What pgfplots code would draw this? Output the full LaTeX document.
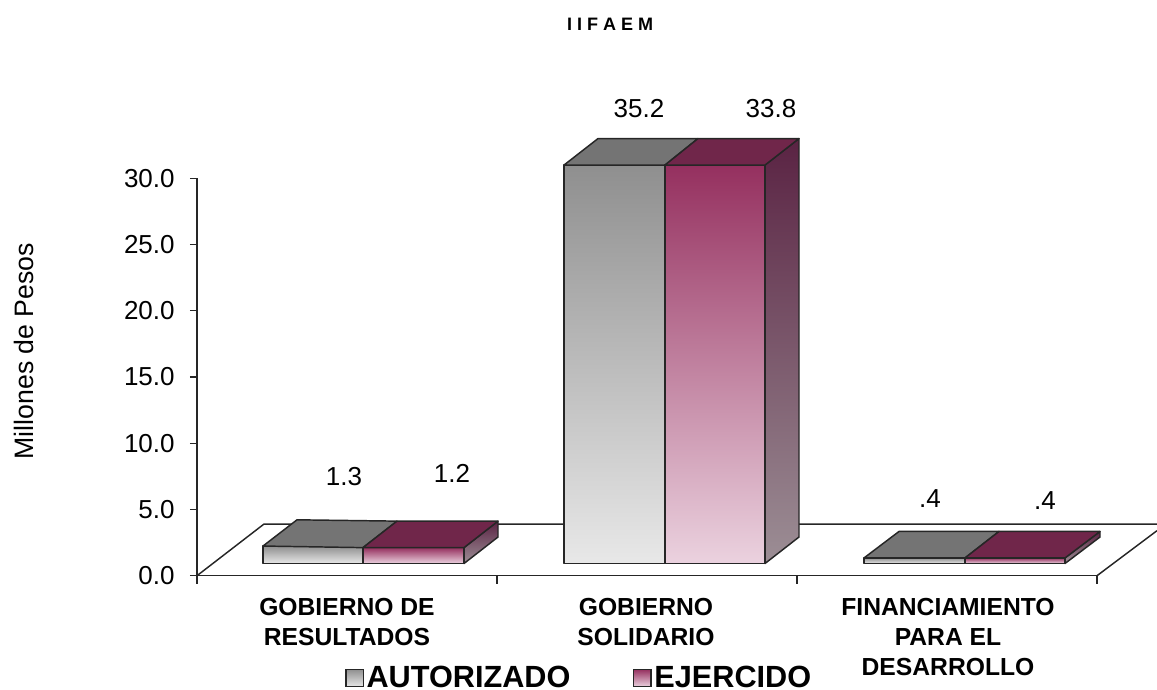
\documentclass[border=0pt]{standalone}
\usepackage{pgfplots}
\pgfplotsset{compat=1.18}
\usepackage{fontspec}
\setmainfont{Liberation Sans}
\definecolor{edge}{HTML}{262626}
\definecolor{gTop}{HTML}{8F8F8F}
\definecolor{gBot}{HTML}{E8E8E8}
\definecolor{rTop}{HTML}{95305F}
\definecolor{rBot}{HTML}{EBD2DF}
\definecolor{gCap}{HTML}{747474}
\definecolor{rCap}{HTML}{70264A}
\definecolor{sTop}{HTML}{5A2343}
\definecolor{sBot}{HTML}{9C8E95}
\tikzset{
  gface/.style={draw=edge,line width=1.1pt,top color=gTop,bottom color=gBot,line join=round},
  rface/.style={draw=edge,line width=1.1pt,top color=rTop,bottom color=rBot,line join=round},
  sface/.style={draw=edge,line width=1.1pt,top color=sTop,bottom color=sBot,line join=round},
  gcap/.style={draw=edge,line width=1.1pt,fill=gCap,line join=round},
  rcap/.style={draw=edge,line width=1.1pt,fill=rCap,line join=round},
  lab/.style={font=\fontsize{19.5}{22}\selectfont}
}
\begin{document}
\begin{tikzpicture}
\path[use as bounding box] (-147.75pt,-84.98pt) rectangle (720pt,431.78pt);
\begin{axis}[
  scale only axis, width=675pt, height=298.05pt,
  xmin=197, xmax=1097, ymin=0, ymax=30,
  clip=false,
  axis x line*=bottom, axis y line*=left,
  axis line style={-,draw=edge},
  x axis line style={line width=1pt},
  y axis line style={line width=1.4pt},
  ytick={0,5,10,15,20,25,30},
  xtick={347,646,948},
  xticklabels={{GOBIERNO DE\\RESULTADOS},{GOBIERNO\\SOLIDARIO},{FINANCIAMIENTO\\PARA EL\\DESARROLLO}},
  minor xtick={197,497,797,1097},
  tick align=outside,
  major tick length=5.25pt, minor tick length=6pt,
  major x tick style={draw=none},
  y tick style={draw=edge,line width=.8pt},
  minor x tick style={draw=edge,line width=.8pt},
  /pgf/number format/assume math mode=true,
  /pgf/number format/fixed, /pgf/number format/fixed zerofill, /pgf/number format/precision=1,
  yticklabel style={font=\fontsize{19.5}{22}\selectfont,xshift=-8pt},
  xticklabel style={font=\fontsize{18.5}{22.5}\selectfont\bfseries,align=center,anchor=north,yshift=-8pt},
  every axis y label/.style={at={(axis description cs:-0.1922,0.565)},rotate=90,anchor=center,font=\fontsize{20}{24}\selectfont},
  ylabel={Millones de Pesos},
  every axis title/.style={at={(axis description cs:0.459,1.388)},anchor=center,font=\fontsize{13.5}{16}\selectfont\bfseries},
  title={I I F A E M},
  legend style={at={(0.1644,-0.2574)},anchor=west,draw=none,fill=none,inner sep=0pt,
    font=\fontsize{23}{26}\selectfont\bfseries,legend cell align=left,
    /tikz/every even column/.append style={column sep=45pt}},
  legend columns=2,
]
% floor of the chart
\addplot[forget plot,draw=edge,line width=1.1pt] coordinates {(197,0) (264,3.9) (1157,3.9)};
\addplot[forget plot,draw=edge,line width=1.1pt] coordinates {(1097,0) (1157,3.4)};
% GOBIERNO DE RESULTADOS: 1.3, 1.2
\addplot[forget plot,gface] coordinates {(263,0.92) (363,0.92) (363,2.24) (263,2.24)} -- cycle;
\addplot[forget plot,gcap] coordinates {(263,2.24) (363,2.12) (397,4.12) (297,4.22)} -- cycle;
\addplot[forget plot,sface] coordinates {(464,0.92) (498,2.92) (498,4.12) (464,2.12)} -- cycle;
\addplot[forget plot,rface] coordinates {(363,0.92) (464,0.92) (464,2.12) (363,2.12)} -- cycle;
\addplot[forget plot,rcap] coordinates {(363,2.12) (464,2.12) (498,4.12) (397,4.12)} -- cycle;
% GOBIERNO SOLIDARIO: 35.2, 33.8 (cut at the top of the scale)
\addplot[forget plot,gface] coordinates {(564,0.92) (665,0.92) (665,31.0) (564,31.0)} -- cycle;
\addplot[forget plot,gcap] coordinates {(564,31.0) (665,31.0) (698,33.0) (598,33.0)} -- cycle;
\addplot[forget plot,sface] coordinates {(765,0.92) (799,2.92) (799,33.0) (765,31.0)} -- cycle;
\addplot[forget plot,rface] coordinates {(665,0.92) (765,0.92) (765,31.0) (665,31.0)} -- cycle;
\addplot[forget plot,rcap] coordinates {(665,31.0) (765,31.0) (799,33.0) (698,33.0)} -- cycle;
% FINANCIAMIENTO PARA EL DESARROLLO: .4, .4
\addplot[forget plot,gface] coordinates {(864,0.92) (965,0.92) (965,1.34) (864,1.34)} -- cycle;
\addplot[forget plot,gcap] coordinates {(864,1.34) (965,1.34) (999,3.34) (899,3.34)} -- cycle;
\addplot[forget plot,sface] coordinates {(1065,0.92) (1100,2.92) (1100,3.34) (1065,1.34)} -- cycle;
\addplot[forget plot,rface] coordinates {(965,0.92) (1065,0.92) (1065,1.34) (965,1.34)} -- cycle;
\addplot[forget plot,rcap] coordinates {(965,1.34) (1065,1.34) (1100,3.34) (999,3.34)} -- cycle;
% value labels
\node[lab] at (axis cs:344,7.45) {1.3};
\node[lab] at (axis cs:452,7.75) {1.2};
\node[lab] at (axis cs:639,35.3) {35.2};
\node[lab] at (axis cs:771,35.3) {33.8};
\node[lab] at (axis cs:930,5.79) {.4};
\node[lab] at (axis cs:1045,5.71) {.4};
% legend
\addlegendimage{legend image code/.code={\draw[draw=edge,line width=1pt,top color=gTop,bottom color=gBot] (0pt,-6.5pt) rectangle (13pt,6.5pt);}}
\addlegendentry{AUTORIZADO}
\addlegendimage{legend image code/.code={\draw[draw=edge,line width=1pt,top color=rTop,bottom color=rBot] (0pt,-6.5pt) rectangle (13pt,6.5pt);}}
\addlegendentry{EJERCIDO}
\end{axis}
\end{tikzpicture}
\end{document}
